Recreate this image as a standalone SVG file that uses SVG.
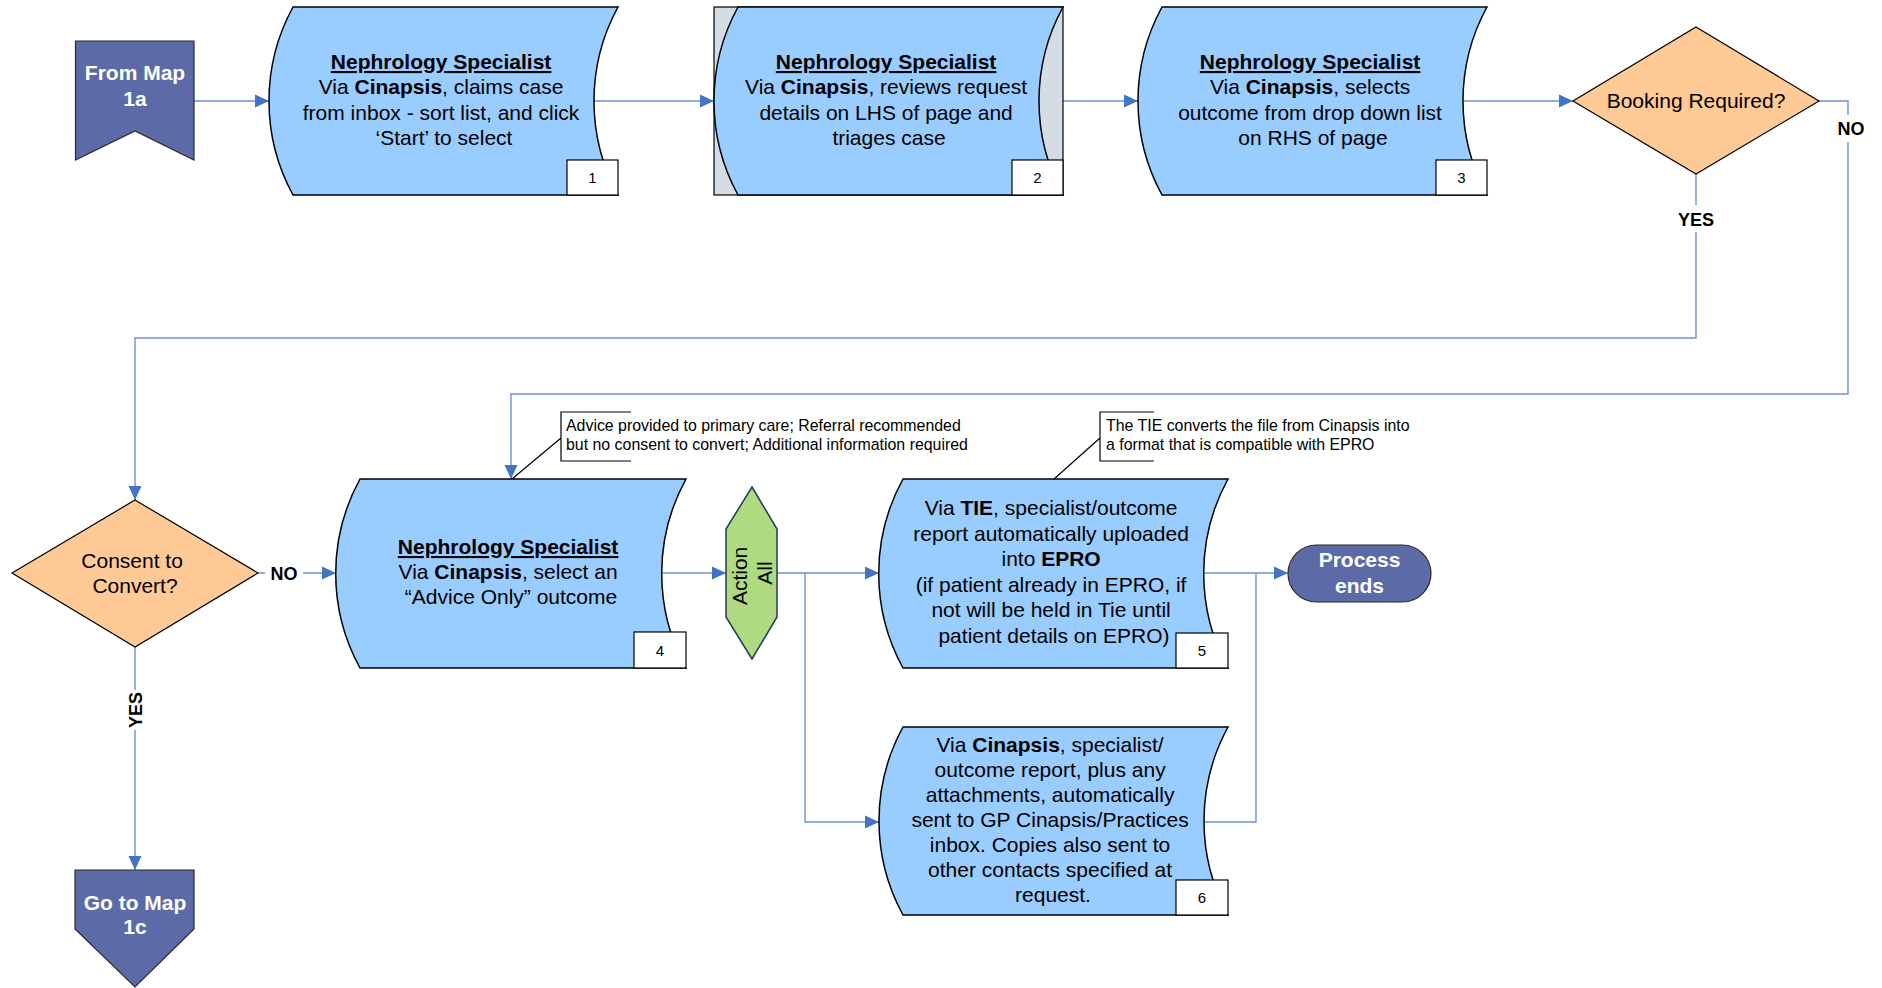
<svg xmlns="http://www.w3.org/2000/svg" width="1882" height="988" viewBox="0 0 1882 988">
<style>
  text { font-family: "Liberation Sans", Arial, sans-serif; fill: #000; }
  .nt { font-size: 21px; text-anchor: middle; }
  .hd { font-weight: bold; text-decoration: underline; }
  .b { font-weight: bold; }
  .wt { font-size: 21px; font-weight: bold; fill: #fff; text-anchor: middle; }
  .num { font-size: 15px; text-anchor: middle; }
  .proc { fill: #99CCFF; stroke: #000; stroke-width: 1.5; }
  .nbox { fill: #fff; stroke: #000; stroke-width: 1.2; }
  .dec { fill: #FFCA96; stroke: #000; stroke-width: 1.2; }
  .term { fill: #5C6BA8; stroke: #2b2b2b; stroke-width: 1.2; }
  .conn { fill: none; stroke: #6A93D4; stroke-width: 1.4; }
  .lbl { font-size: 18px; font-weight: bold; text-anchor: middle; }
  .call { fill: none; stroke: #000; stroke-width: 1.2; }
  .ct { font-size: 15.9px; }
</style>
<defs>
  <marker id="ah" markerUnits="userSpaceOnUse" markerWidth="14" markerHeight="14" viewBox="0 0 14 14" refX="14" refY="7" orient="auto">
    <path d="M0,0.5 L14,7 L0,13.5 Z" fill="#4472C4"/>
  </marker>
</defs>

<!-- connectors -->
<g id="connectors">
  <path class="conn" d="M194,101 H269" marker-end="url(#ah)"/>
  <path class="conn" d="M594,101 H714" marker-end="url(#ah)"/>
  <path class="conn" d="M1039,101 H1138" marker-end="url(#ah)"/>
  <path class="conn" d="M1463,101 H1573" marker-end="url(#ah)"/>
  <path class="conn" d="M1819,101 H1848 V394 H511 V479" marker-end="url(#ah)"/>
  <path class="conn" d="M1696,174 V338 H135 V500" marker-end="url(#ah)"/>
  <path class="conn" d="M258,573 H336" marker-end="url(#ah)"/>
  <path class="conn" d="M135,647 V870" marker-end="url(#ah)"/>
  <path class="conn" d="M662,573 H726" marker-end="url(#ah)"/>
  <path class="conn" d="M777,573 H879" marker-end="url(#ah)"/>
  <path class="conn" d="M805,573 V822 H879" marker-end="url(#ah)"/>
  <path class="conn" d="M1204,573 H1288" marker-end="url(#ah)"/>
  <path class="conn" d="M1204,822 H1256 V573"/>
  <!-- labels -->
  <rect x="1835" y="115" width="32" height="27" fill="#fff"/>
  <text class="lbl" x="1851" y="135">NO</text>
  <rect x="1677" y="205" width="38" height="27" fill="#fff"/>
  <text class="lbl" x="1696" y="226">YES</text>
  <rect x="265" y="562" width="38" height="22" fill="#fff"/>
  <text class="lbl" x="284" y="579.5">NO</text>
  <rect x="122" y="690" width="26" height="40" fill="#fff"/>
  <text class="lbl" transform="translate(135,710) rotate(-90)" x="0" y="6.5">YES</text>
</g>

<!-- From Map 1a -->
<g id="from-map-1a">
  <path class="term" d="M75.5,41 H194 V160 L135,131 L75.5,160 Z"/>
  <text class="wt" x="135" y="80">From Map</text>
  <text class="wt" x="135" y="106">1a</text>
</g>

<!-- Node 1 -->
<g id="node-1">
  <path class="proc" d="M293,7 H618 A196,196 0 0,0 618,195 H293 A196,196 0 0,1 293,7 Z"/>
  <text class="nt">
    <tspan x="444" y="69" class="hd">Nephrology Specialist</tspan>
    <tspan x="444" y="94">Via <tspan class="b">Cinapsis</tspan>, claims case</tspan>
    <tspan x="444" y="119.5">from inbox - sort list, and click</tspan>
    <tspan x="444" y="145">‘Start’ to select</tspan>
  </text>
  <rect class="nbox" x="567" y="160" width="51" height="35"/>
  <text class="num" x="592.5" y="183">1</text>
</g>

<!-- Node 2 -->
<g id="node-2">
  <rect x="714" y="7" width="349" height="188" fill="#D5DCE4" stroke="#000" stroke-width="1.2"/>
  <path class="proc" d="M738,7 H1063 A196,196 0 0,0 1063,195 H738 A196,196 0 0,1 738,7 Z"/>
  <text class="nt">
    <tspan x="889" y="69" class="hd">Nephrology Specialist</tspan>
    <tspan x="889" y="94">Via <tspan class="b">Cinapsis</tspan>, reviews request</tspan>
    <tspan x="889" y="119.5">details on LHS of page and</tspan>
    <tspan x="889" y="145">triages case</tspan>
  </text>
  <rect class="nbox" x="1012" y="160" width="51" height="35"/>
  <text class="num" x="1037.5" y="183">2</text>
</g>

<!-- Node 3 -->
<g id="node-3">
  <path class="proc" d="M1162,7 H1487 A196,196 0 0,0 1487,195 H1162 A196,196 0 0,1 1162,7 Z"/>
  <text class="nt">
    <tspan x="1313" y="69" class="hd">Nephrology Specialist</tspan>
    <tspan x="1313" y="94">Via <tspan class="b">Cinapsis</tspan>, selects</tspan>
    <tspan x="1313" y="119.5">outcome from drop down list</tspan>
    <tspan x="1313" y="145">on RHS of page</tspan>
  </text>
  <rect class="nbox" x="1436" y="160" width="51" height="35"/>
  <text class="num" x="1461.5" y="183">3</text>
</g>

<!-- Booking Required? -->
<g id="booking-required">
  <path class="dec" d="M1696,27 L1819,101 L1696,174 L1573,101 Z"/>
  <text class="nt" x="1696" y="108">Booking Required?</text>
</g>

<!-- Consent to Convert? -->
<g id="consent-to-convert">
  <path class="dec" d="M135,500 L258,573 L135,647 L12,573 Z"/>
  <text class="nt">
    <tspan x="135" y="568">Consent to</tspan>
    <tspan x="135" y="593">Convert?</tspan>
  </text>
</g>

<!-- Callout 1 -->
<g id="callout-1">
  <path class="call" d="M631,412 H561 V461 H631 M561,438 L512,479"/>
  <text class="ct">
    <tspan x="566" y="431">Advice provided to primary care; Referral recommended</tspan>
    <tspan x="566" y="450">but no consent to convert; Additional information required</tspan>
  </text>
</g>

<!-- Node 4 -->
<g id="node-4">
  <path class="proc" d="M360,479 H686 A196,196 0 0,0 686,668 H360 A196,196 0 0,1 360,479 Z"/>
  <text class="nt">
    <tspan x="511" y="554" class="hd">Nephrology Specialist</tspan>
    <tspan x="511" y="579">Via <tspan class="b">Cinapsis</tspan>, select an</tspan>
    <tspan x="511" y="604">“Advice Only” outcome</tspan>
  </text>
  <rect class="nbox" x="634" y="632" width="52" height="36"/>
  <text class="num" x="660" y="656">4</text>
</g>

<!-- Action All -->
<g id="action-all">
  <path d="M752,487 L777,529 V617 L752,659 L726,617 V529 Z" fill="#AEDB80" stroke="#23395D" stroke-width="1.5"/>
  <text class="nt" transform="translate(752,573) rotate(-90)">
    <tspan x="0" y="-5">Action</tspan>
    <tspan x="0" y="20">All</tspan>
  </text>
</g>

<!-- Callout 2 -->
<g id="callout-2">
  <path class="call" d="M1154,412 H1100 V461 H1154 M1100,438 L1054,479"/>
  <text class="ct">
    <tspan x="1106" y="431">The TIE converts the file from Cinapsis into</tspan>
    <tspan x="1106" y="450">a format that is compatible with EPRO</tspan>
  </text>
</g>

<!-- Node 5 -->
<g id="node-5">
  <path class="proc" d="M903,479 H1228 A196,196 0 0,0 1228,668 H903 A196,196 0 0,1 903,479 Z"/>
  <text class="nt">
    <tspan x="1054" y="515">Via <tspan class="b">TIE</tspan>, specialist/outcome</tspan>
    <tspan x="1054" y="541">report automatically uploaded</tspan>
    <tspan x="1054" y="566">into <tspan class="b">EPRO</tspan></tspan>
    <tspan x="1054" y="592">(if patient already in EPRO, if</tspan>
    <tspan x="1054" y="617">not will be held in Tie until</tspan>
    <tspan x="1054" y="643">patient details on EPRO)</tspan>
  </text>
  <rect class="nbox" x="1176" y="633" width="52" height="35"/>
  <text class="num" x="1202" y="656">5</text>
</g>

<!-- Node 6 -->
<g id="node-6">
  <path class="proc" d="M903,727 H1228 A196,196 0 0,0 1228,915 H903 A196,196 0 0,1 903,727 Z"/>
  <text class="nt">
    <tspan x="1053" y="752">Via <tspan class="b">Cinapsis</tspan>, specialist/</tspan>
    <tspan x="1053" y="777">outcome report, plus any</tspan>
    <tspan x="1053" y="802">attachments, automatically</tspan>
    <tspan x="1053" y="827">sent to GP Cinapsis/Practices</tspan>
    <tspan x="1053" y="852">inbox. Copies also sent to</tspan>
    <tspan x="1053" y="877">other contacts specified at</tspan>
    <tspan x="1053" y="902">request.</tspan>
  </text>
  <rect class="nbox" x="1176" y="880" width="52" height="35"/>
  <text class="num" x="1202" y="903">6</text>
</g>

<!-- Process ends -->
<g id="process-ends">
  <rect class="term" x="1288" y="545" width="143" height="57" rx="28.5" ry="28.5"/>
  <text class="wt" x="1359.5" y="567">Process</text>
  <text class="wt" x="1359.5" y="593">ends</text>
</g>

<!-- Go to Map 1c -->
<g id="go-to-map-1c">
  <path class="term" d="M75,870 H194 V929 L135,987 L75,929 Z"/>
  <text class="wt" x="135" y="910">Go to Map</text>
  <text class="wt" x="135" y="934">1c</text>
</g>
</svg>
